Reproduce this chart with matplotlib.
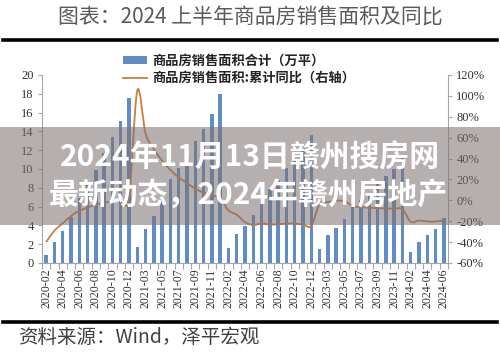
import matplotlib
matplotlib.use('Agg')
import matplotlib.pyplot as plt
from matplotlib.path import Path
from matplotlib.patches import PathPatch, Rectangle, Patch
from matplotlib.lines import Line2D
import numpy as np

categories = [
    '2020-02', '2020-03', '2020-04', '2020-05', '2020-06', '2020-07', '2020-08', '2020-09', '2020-10', '2020-11', '2020-12',
    '2021-02', '2021-03', '2021-04', '2021-05', '2021-06', '2021-07', '2021-08', '2021-09', '2021-10', '2021-11', '2021-12',
    '2022-02', '2022-03', '2022-04', '2022-05', '2022-06', '2022-07', '2022-08', '2022-09', '2022-10', '2022-11', '2022-12',
    '2023-02', '2023-03', '2023-04', '2023-05', '2023-06', '2023-07', '2023-08', '2023-09', '2023-10', '2023-11', '2023-12',
    '2024-02', '2024-03', '2024-04', '2024-05', '2024-06',
]

# 商品房销售面积合计 (left axis)
sales_2020 = [0.85, 2.2, 3.4, 4.88, 6.9, 8.4, 9.9, 11.7, 13.4, 15.1, 17.6]
sales_2021 = [1.73, 3.6, 4.95, 6.64, 8.9, 10.1, 11.3, 13.0, 14.3, 15.85, 17.95]
sales_2022 = [1.57, 3.1, 3.98, 5.07, 6.89, 7.82, 8.8, 10.1, 11.1, 12.1, 13.6]
sales_2023 = [1.51, 2.99, 3.76, 4.64, 5.95, 6.66, 7.39, 8.48, 9.26, 10.05, 11.17]
sales_2024 = [1.14, 2.27, 2.93, 3.66, 4.79]

# 累计同比 (%) (right axis)
yoy_2020 = [-40, -29, -22, -15, -10, -7, -4, -2.5, -0.5, 1.3, 2.6]
yoy_2021 = [105, 64, 49, 38, 29, 22, 16.5, 11.3, 7.3, 4.8, 1.9]
yoy_2022 = [-9.6, -13.8, -20.9, -23.6, -22.2, -23.1, -23.0, -22.2, -22.3, -23.3, -24.3]
yoy_2023 = [-3.6, -1.8, -0.4, -0.9, -5.3, -6.5, -7.1, -7.5, -7.8, -8.0, -8.5]
yoy_2024 = [-20.5, -19.4, -20.2, -20.3, -19.0]

left_ticks = [0, 2, 4, 6, 8, 10, 12, 14, 16, 18, 20]
right_ticks = [-60, -40, -20, 0, 20, 40, 60, 80, 100, 120]

title = '图表：2024 上半年商品房销售面积及同比'
legend_bar = '商品房销售面积合计（万平）'
legend_line = '商品房销售面积:累计同比（右轴）'
source = '资料来源：Wind，泽平宏观'
overlay_line1 = '2024年11月13日赣州搜房网'
overlay_line2 = '最新动态，2024年赣州房地产'

sales = sales_2020 + sales_2021 + sales_2022 + sales_2023 + sales_2024
yoy = yoy_2020 + yoy_2021 + yoy_2022 + yoy_2023 + yoy_2024

CJK = ['Noto Sans CJK SC', 'DejaVu Sans']
SERIF = ['Liberation Serif', 'DejaVu Serif']

fig = plt.figure(figsize=(5, 3.53), dpi=100)
fig.patch.set_facecolor('white')

ax = fig.add_axes([0.084, 0.255, 0.812, 0.5326])
x = np.arange(len(categories))
ax.bar(x, sales, width=0.4, color='#5f8dc6', zorder=2)
ax.set_xlim(-0.5, len(categories) - 0.5)
ax.set_ylim(0, 20)
ax.set_yticks(left_ticks)
ax.set_yticklabels([str(v) for v in left_ticks], fontfamily=SERIF, fontsize=9, color='#333333')

ax.set_xticks(x[::2])
ax.set_xticklabels(categories[::2], rotation=90, fontfamily=SERIF, fontsize=8.6, color='#333333')
ax.set_xticks(np.arange(-0.5, len(categories), 1), minor=True)
ax.tick_params(axis='x', which='major', length=0, pad=4)
ax.tick_params(axis='x', which='minor', length=4, color='#a6a6a6', width=0.8)
ax.tick_params(axis='y', length=3, color='#a6a6a6', width=0.8, pad=3)

ax2 = ax.twinx()
ax2.set_ylim(-60, 120)
ax2.set_yticks(right_ticks)
ax2.set_yticklabels([f'{v}%' for v in right_ticks], fontfamily=SERIF, fontsize=9, color='#333333')
ax2.tick_params(axis='y', length=3, color='#a6a6a6', width=0.8, pad=3)

for a in (ax, ax2):
    a.spines['top'].set_visible(False)
    for s in ('left', 'right', 'bottom'):
        a.spines[s].set_color('#a6a6a6')
        a.spines[s].set_linewidth(0.8)
ax.spines['right'].set_visible(False)
ax2.spines['left'].set_visible(False)
ax2.spines['bottom'].set_visible(False)

# smoothed line (Bezier through data points, Excel style)
pts = np.column_stack([x, np.array(yoy, dtype=float)])
n = len(pts)
verts = [pts[0]]
codes = [Path.MOVETO]
for i in range(n - 1):
    p0 = pts[i - 1] if i > 0 else pts[i]
    p1 = pts[i]
    p2 = pts[i + 1]
    p3 = pts[i + 2] if i + 2 < n else pts[i + 1]
    c1 = p1 + (p2 - p0) / 6.0
    c2 = p2 - (p3 - p1) / 6.0
    verts += [c1, c2, p2]
    codes += [Path.CURVE4] * 3
path = Path(verts, codes)
ax2.add_patch(PathPatch(path, fill=False, edgecolor='#c87f3f', linewidth=1.3, zorder=3))

# legend
handles = [Patch(facecolor='#5f8dc6', edgecolor='none'),
           Line2D([0], [0], color='#c87f3f', linewidth=1.3)]
fig.legend(handles, [legend_bar, legend_line], loc='upper left',
           bbox_to_anchor=(0.246, 0.848), frameon=False,
           prop={'family': CJK, 'size': 9.5, 'weight': 'bold'},
           handlelength=1.8, handleheight=0.5, handletextpad=0.4, labelspacing=0.25,
           borderaxespad=0, borderpad=0, labelcolor='#222222')

# title and rules
fig.text(0.5, 0.952, title, ha='center', va='center', fontsize=15, color='#5a5a5a',
         fontfamily=CJK, fontweight='light')
fig.add_artist(Line2D([0.006, 0.994], [0.8853, 0.8853], transform=fig.transFigure,
                      color='black', linewidth=2.6))
fig.add_artist(Line2D([0.006, 0.994], [0.0892, 0.0892], transform=fig.transFigure,
                      color='black', linewidth=2.6))
fig.text(0.036, 0.043, source, ha='left', va='center', fontsize=14, color='#404040',
         fontfamily=CJK, fontstyle='italic', fontweight='light')

# overlay band
fig.add_artist(Rectangle((0, 0.3626), 1, 0.2776, transform=fig.transFigure,
                         facecolor='#7d7173', alpha=0.56, edgecolor='none', zorder=10))
fig.text(0.5, 0.555, overlay_line1, ha='center', va='center', fontsize=21.5, color='white',
         fontfamily=CJK, fontweight='bold', zorder=11)
fig.text(0.496, 0.4476, overlay_line2, ha='center', va='center', fontsize=21.5, color='white',
         fontfamily=CJK, fontweight='bold', zorder=11)

fig.savefig('out.png', dpi=100)
